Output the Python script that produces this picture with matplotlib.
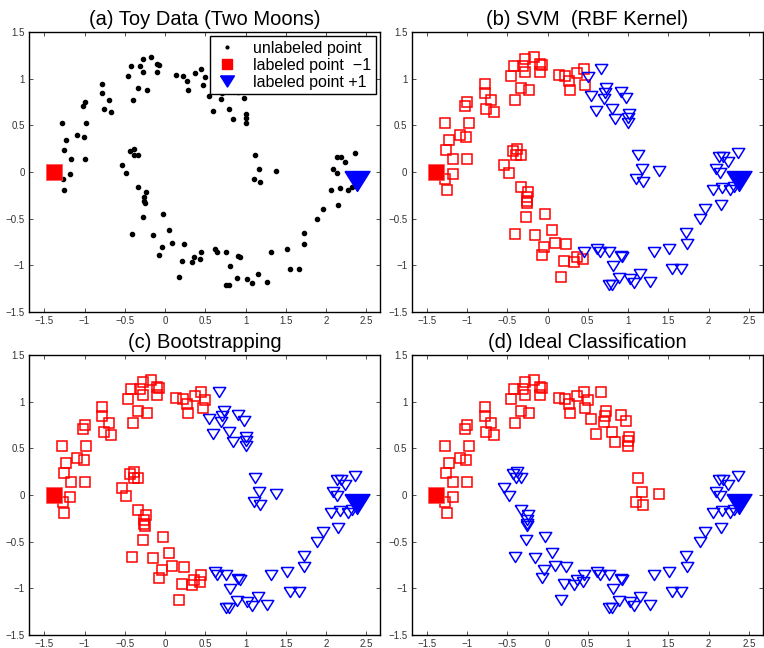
import numpy as np
import matplotlib
matplotlib.use('Agg')
import matplotlib.pyplot as plt
from matplotlib.lines import Line2D

plt.rcParams['font.family'] = ['Liberation Sans', 'DejaVu Sans']

# upper moon points
upper_x = [-1.28, -1.23, -1.26, -1.17, -1.00, -1.09, -1.01, -0.98, -1.02, -1.00,
           -0.78, -0.78, -0.70, -0.76, -0.67, -0.46, -0.42, -0.40, -0.33, -0.31,
           -0.28, -0.28, -0.23, -0.17, -0.10, -0.07, -0.10, 0.14, 0.22, 0.27,
           0.28, 0.37, 0.45, 0.50, 0.47, 0.54, 0.70, 0.60, 0.80, 0.84,
           0.98, 1.01, 1.00, 1.00, 0.67, 0.73, 0.71, 0.91, 1.12, 1.17,
           1.38, 1.10, 1.18, -1.18, -1.27, -1.25]
upper_y = [0.52, 0.34, 0.24, 0.14, 0.14, 0.40, 0.38, 0.52, 0.71, 0.75,
           0.94, 0.85, 0.77, 0.68, 0.64, 1.03, 1.14, 0.77, 0.90, 1.14,
           1.21, 1.07, 0.88, 1.23, 1.16, 1.15, 1.07, 1.04, 1.03, 0.98,
           0.88, 1.06, 1.10, 1.02, 0.93, 0.81, 0.78, 0.65, 0.68, 0.57,
           0.79, 0.62, 0.58, 0.53, 1.10, 0.90, 0.85, 0.86, 0.18, 0.03,
           0.01, -0.08, -0.11, -0.02, -0.08, -0.19]

# lower moon points
lower_x = [-0.54, -0.48, -0.43, -0.38, -0.39, -0.33, -0.33, -0.24, -0.26, -0.26,
           -0.25, -0.27, -0.03, -0.41, -0.15, 0.05, 0.09, -0.04, -0.07, 0.23,
           0.21, 0.17, 0.33, 0.36, 0.44, 0.45, 0.62, 0.65, 0.76, 0.91,
           0.93, 0.81, 0.76, 0.80, 0.89, 1.02, 1.08, 1.15, 1.27, 1.32,
           1.51, 1.55, 1.66, 1.73, 1.72, 1.89, 1.96, 2.15, 2.06, 2.17,
           2.27, 2.32, 2.09, 2.14, 2.13, 2.18, 2.24, 2.36]
lower_y = [0.07, -0.01, 0.23, 0.25, 0.18, 0.18, -0.16, -0.21, -0.27, -0.31,
           -0.33, -0.48, -0.45, -0.66, -0.68, -0.62, -0.76, -0.80, -0.89, -0.77,
           -0.95, -1.12, -0.96, -0.91, -0.93, -0.86, -0.82, -0.86, -0.86, -0.90,
           -0.91, -1.01, -1.21, -1.21, -1.14, -1.15, -1.19, -1.09, -1.18, -0.86,
           -0.83, -1.04, -1.04, -0.77, -0.65, -0.50, -0.40, -0.35, -0.19, -0.17,
           -0.19, -0.16, 0.03, -0.01, 0.16, 0.16, 0.11, 0.20]

# labeled points
neg_pt = (-1.38, 0.0)
pos_pt = (2.38, -0.10)

# per-panel class of every point (r = -1, b = +1), upper moon then lower moon
svm_upper = "rrrrrrrrrr" "rrrrrrrrrr" "rrrrrrrrrr" "rrrbrbbbbb" "bbbbbbbbbb" "bbbrrr"
svm_lower = "rrrrrrrrrr" "rrrrrrrrrr" "rrrrrbbbbb" "bbbbbbbbbb" "bbbbbbbbbb" "bbbbbbbb"
boot_upper = "rrrrrrrrrr" "rrrrrrrrrr" "rrrrrrrrrr" "rrrrrbbbbb" "bbbbbbbbbb" "bbbrrr"
boot_lower = "rrrrrrrrrr" "rrrrrrrrrr" "rrrrrrbbbb" "bbbbbbbbbb" "bbbbbbbbbb" "bbbbbbbb"
ideal_upper = "r" * 56
ideal_lower = "b" * 58

titles = ['(a) Toy Data (Two Moons)', '(b) SVM  (RBF Kernel)',
          '(c) Bootstrapping', '(d) Ideal Classification']

all_x = np.array(upper_x + lower_x)
all_y = np.array(upper_y + lower_y)

tri = [(-1, 0.8), (1, 0.8), (0, -0.8), (-1, 0.8)]

W, H = 764, 648
fig = plt.figure(figsize=(W / 100, H / 100), dpi=100)
boxes = [(29, 32), (411.5, 32), (29, 355), (411.5, 355)]
axes = []
for (l, t) in boxes:
    ax = fig.add_axes([l / W, 1 - (t + 280) / H, 351 / W, 280 / H])
    axes.append(ax)


def style(ax, title):
    ax.set_xlim(-1.69, 2.67)
    ax.set_ylim(-1.5, 1.5)
    ax.set_xticks([-1.5, -1, -0.5, 0, 0.5, 1, 1.5, 2, 2.5])
    ax.set_xticklabels(['\u22121.5', '\u22121', '\u22120.5', '0', '0.5', '1', '1.5', '2', '2.5'])
    ax.set_yticks([-1.5, -1, -0.5, 0, 0.5, 1, 1.5])
    ax.set_yticklabels(['\u22121.5', '\u22121', '\u22120.5', '0', '0.5', '1', '1.5'])
    ax.tick_params(direction='in', top=True, right=True, length=3, width=0.6,
                   labelsize=7, colors='#333333', pad=3)
    for s in ax.spines.values():
        s.set_linewidth(1.0)
        s.set_color('black')
    ax.set_title(title, fontsize=14.5, pad=5)


# (a) toy data
ax = axes[0]
ax.plot(all_x, all_y, 'o', color='black', ms=3, ls='none')
ax.plot(*neg_pt, 's', color='red', ms=12, mec='#ff5050', mew=0.5)
ax.plot(*pos_pt, marker=tri, color='blue', ms=18, ls='none')
style(ax, titles[0])
handles = [Line2D([], [], ls='none', marker='o', color='black', ms=2),
           Line2D([], [], ls='none', marker='s', color='red', ms=7),
           Line2D([], [], ls='none', marker=tri, color='blue', ms=10)]
leg = ax.legend(handles, ['unlabeled point', 'labeled point  \u22121', 'labeled point +1'],
                loc='upper right', fontsize=11.5, frameon=True, fancybox=False,
                edgecolor='black', framealpha=1, borderaxespad=0.25,
                handlelength=1.5, handletextpad=0.9, labelspacing=0.12,
                borderpad=0.3)
leg.get_frame().set_linewidth(1.0)

# (b)-(d) classifications
for ax, up, lo, title in zip(axes[1:],
                             [svm_upper, boot_upper, ideal_upper],
                             [svm_lower, boot_lower, ideal_lower],
                             titles[1:]):
    lab = np.array(list(up + lo))
    r = lab == 'r'
    b = lab == 'b'
    ax.plot(all_x[r], all_y[r], 's', mfc='none', mec='red', mew=1.1, ms=6.5, ls='none')
    ax.plot(all_x[b], all_y[b], marker=tri, mfc='none', mec='blue', mew=1.1, ms=9, ls='none')
    ax.plot(*neg_pt, 's', color='red', ms=12, mec='#ff5050', mew=0.5)
    ax.plot(*pos_pt, marker=tri, color='blue', ms=18, ls='none')
    style(ax, title)

fig.savefig('out.png', dpi=100)
